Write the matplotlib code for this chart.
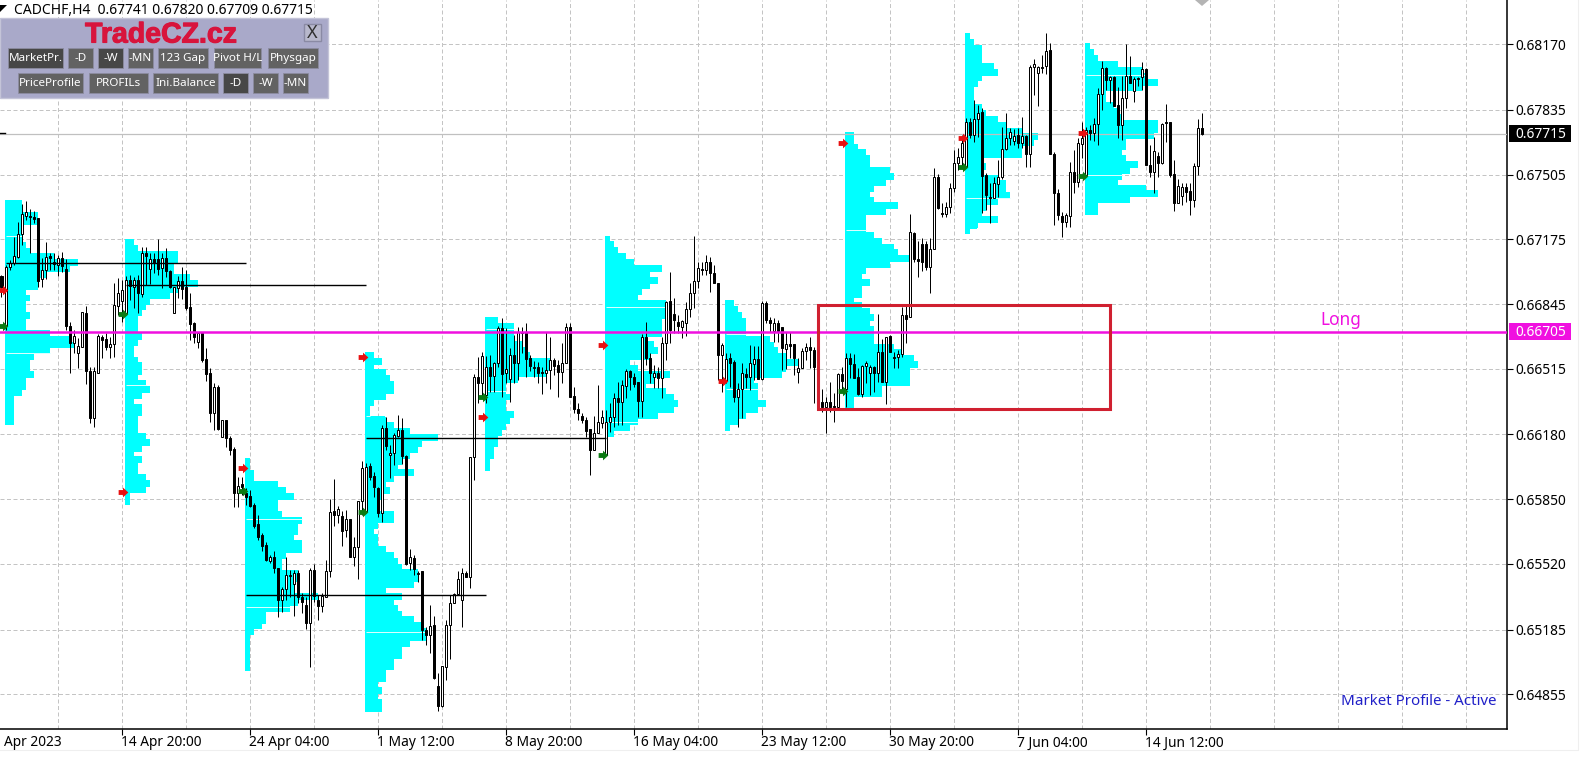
import numpy as np
from matplotlib import pyplot as plt
from matplotlib.patches import Rectangle, Polygon
import matplotlib.patheffects as pe

plt.rcParams['font.family'] = ['Noto Sans', 'DejaVu Sans']

# all prices in points (1 point = 0.00001)
opens = [66988, 66733, 67033, 67053, 67087, 67201, 67296, 67294, 67288, 67283,
         66971, 67019, 67092, 67058, 67045, 67078, 67024, 66733, 66648, 66594,
         66628, 66798, 66506, 66266, 66495, 66676, 66667, 66628, 66640, 66837,
         66863, 66798, 66968, 66934, 66968, 66897, 67104, 67022, 67075, 67073,
         67027, 67078, 67014, 66801, 66926, 66963, 66934, 66832, 66747, 66653,
         66699, 66563, 66495, 66291, 66424, 66169, 66254, 66164, 66104, 65883,
         65928, 65883, 65866, 65820, 65724, 65667, 65616, 65537, 65557, 65497,
         65336, 65390, 65457, 65418, 65472, 65353, 65310, 65217, 65489, 65336,
         65305, 65353, 65481, 65790, 65770, 65764, 65693, 65747, 65557, 65608,
         65838, 65787, 66019, 65968, 65906, 65781, 66212, 66074, 66084, 66172,
         66203, 66072, 65523, 65549, 65469, 65481, 65183, 65157, 65208, 64897,
         64795, 64996, 65208, 65319, 65367, 65336, 65472, 65452, 66064, 66472,
         66441, 66382, 66523, 66478, 66543, 66721, 66492, 66461, 66585, 66546,
         66699, 66704, 66569, 66519, 66526, 66500, 66495, 66509, 66560, 66534,
         66500, 66546, 66727, 66376, 66310, 66274, 66254, 66206, 66101, 66186,
         66240, 66076, 66245, 66271, 66365, 66344, 66429, 66506, 66472, 66446,
         66353, 66679, 66569, 66472, 66495, 66467, 66645, 66861, 66793, 66752,
         66730, 66750, 66818, 66900, 66963, 67024, 67019, 67058, 67002, 66951,
         66586, 66455, 66569, 66548, 66373, 66410, 66489, 66472, 66540, 66563,
         66463, 66852, 66764, 66710, 66750, 66727, 66618, 66640, 66642, 66500,
         66518, 66606, 66625, 66611, 66347, 66344, 66319, 66344, 66325, 66319,
         66489, 66410, 66570, 66540, 66472, 66387, 66531, 66495, 66523, 66495,
         66599, 66449, 66682, 66575, 66574, 66589, 66788, 66778, 67206, 67075,
         67152, 67152, 67033, 67124, 67492, 67308, 67305, 67339, 67436, 67563,
         67594, 67546, 67774, 67708, 67787, 67825, 67503, 67388, 67385, 67458,
         67492, 67634, 67690, 67679, 67706, 67668, 67702, 67609, 68053, 68022,
         68056, 68059, 68141, 67611, 67413, 67296, 67264, 67294, 67520, 67466,
         67662, 67503, 67733, 67719, 67762, 67915, 68048, 67988, 68002, 67860,
         67758, 67894, 68008, 67932, 67998, 68002, 68044, 67555, 67521, 67600,
         67566, 67772, 67772, 67509, 67359, 67398, 67441, 67420, 67376, 67549,
         67741]
highs = [66993, 67045, 67070, 67189, 67266, 67356, 67373, 67328, 67322, 67283,
         67079, 67163, 67107, 67104, 67095, 67112, 67073, 66756, 66713, 66670,
         66807, 66835, 66526, 66526, 66693, 66688, 66696, 66679, 66954, 66977,
         66968, 66988, 66993, 66982, 66993, 67138, 67138, 67104, 67104, 67177,
         67104, 67133, 67019, 66931, 66988, 67033, 67019, 66903, 66756, 66704,
         66699, 66620, 66518, 66441, 66432, 66254, 66254, 66172, 66118, 65965,
         65965, 65906, 65897, 65829, 65770, 65679, 65633, 65566, 65588, 65497,
         65404, 65557, 65489, 65489, 65489, 65370, 65353, 65501, 65520, 65361,
         65370, 65540, 65849, 65951, 65817, 65792, 65795, 65747, 65659, 65841,
         66042, 66033, 66036, 65990, 65914, 66228, 66271, 66126, 66186, 66280,
         66262, 66076, 65594, 65566, 65486, 65481, 65200, 65311, 65254, 64962,
         65000, 65234, 65362, 65370, 65486, 65497, 65481, 66067, 66489, 66577,
         66602, 66580, 66586, 66552, 66733, 66772, 66721, 66619, 66687, 66730,
         66730, 66750, 66585, 66557, 66552, 66526, 66704, 66679, 66568, 66560,
         66645, 66750, 66750, 66424, 66339, 66291, 66271, 66206, 66274, 66433,
         66305, 66305, 66339, 66390, 66450, 66458, 66512, 66509, 66492, 66450,
         66693, 66755, 66594, 66534, 66526, 66679, 66861, 67010, 66874, 66789,
         66764, 66858, 66951, 67192, 67061, 67061, 67095, 67084, 67044, 66951,
         66645, 66594, 66594, 66560, 66441, 66543, 66518, 66636, 66631, 66631,
         66861, 66861, 66781, 66773, 66764, 66730, 66704, 66704, 66642, 66569,
         66619, 66645, 66679, 66628, 66373, 66410, 66373, 66449, 66390, 66495,
         66523, 66594, 66594, 66589, 66517, 66534, 66557, 66534, 66529, 66793,
         66665, 66679, 66688, 66602, 66611, 66829, 66846, 67303, 67214, 67169,
         67180, 67169, 67180, 67538, 67509, 67362, 67368, 67461, 67631, 67640,
         67707, 67796, 67796, 67886, 67861, 67844, 67512, 67461, 67495, 67580,
         67747, 67821, 67741, 67736, 67741, 67798, 67707, 68064, 68093, 68059,
         68116, 68226, 68178, 67623, 67430, 67317, 67311, 67571, 67631, 67690,
         67775, 67747, 67759, 67793, 67945, 68087, 68056, 68008, 68008, 67954,
         68008, 68172, 68110, 68005, 68005, 68081, 68048, 67656, 67699, 67623,
         67767, 67866, 67775, 67580, 67481, 67461, 67461, 67461, 67563, 67789,
         67820]
lows = [66883, 66713, 67019, 67045, 67079, 67147, 67274, 67104, 67257, 66934,
        66931, 66971, 67019, 67019, 66988, 67010, 66713, 66492, 66594, 66518,
        66628, 66438, 66237, 66220, 66495, 66568, 66611, 66572, 66577, 66790,
        66756, 66798, 66866, 66823, 66801, 66880, 66942, 66948, 67002, 66994,
        66929, 66985, 66926, 66801, 66874, 66869, 66815, 66662, 66648, 66619,
        66552, 66455, 66245, 66203, 66203, 66169, 66118, 66075, 65812, 65812,
        65872, 65820, 65812, 65702, 65642, 65588, 65532, 65526, 65472, 65251,
        65276, 65336, 65353, 65254, 65319, 65268, 65186, 64993, 65327, 65234,
        65276, 65353, 65452, 65713, 65727, 65611, 65659, 65557, 65509, 65441,
        65770, 65778, 65948, 65863, 65761, 65735, 66101, 65957, 66024, 66169,
        66030, 65514, 65489, 65463, 65429, 65132, 65106, 65064, 64931, 64767,
        64792, 64928, 65033, 65319, 65362, 65197, 65452, 65396, 65948, 66339,
        66373, 66339, 66398, 66398, 66526, 66373, 66441, 66347, 66441, 66458,
        66594, 66475, 66506, 66475, 66441, 66387, 66441, 66410, 66483, 66373,
        66441, 66543, 66373, 66288, 66254, 66237, 66169, 65974, 66101, 66186,
        66212, 66076, 66194, 66220, 66229, 66229, 66365, 66407, 66424, 66271,
        66271, 66534, 66441, 66415, 66415, 66365, 66560, 66645, 66696, 66696,
        66670, 66682, 66781, 66823, 66925, 66993, 66993, 66909, 66951, 66458,
        66398, 66441, 66424, 66347, 66220, 66263, 66415, 66407, 66458, 66463,
        66458, 66747, 66704, 66653, 66653, 66509, 66512, 66569, 66483, 66441,
        66518, 66560, 66518, 66339, 66322, 66296, 66189, 66296, 66246, 66314,
        66407, 66319, 66467, 66467, 66381, 66373, 66441, 66381, 66398, 66449,
        66449, 66336, 66602, 66518, 66518, 66577, 66648, 66778, 67058, 66985,
        67014, 67019, 66900, 67124, 67328, 67291, 67291, 67311, 67419, 67529,
        67538, 67546, 67691, 67674, 67699, 67311, 67325, 67260, 67385, 67393,
        67481, 67631, 67656, 67656, 67640, 67640, 67546, 67546, 67911, 67855,
        68022, 68019, 67609, 67249, 67274, 67189, 67240, 67240, 67410, 67444,
        67589, 67498, 67682, 67679, 67656, 67835, 67937, 67872, 67855, 67690,
        67682, 67843, 67971, 67878, 67959, 67937, 67555, 67495, 67410, 67495,
        67560, 67674, 67495, 67322, 67359, 67350, 67368, 67300, 67339, 67503,
        67709]
closes = [66934, 67033, 67056, 67090, 67201, 67303, 67313, 67288, 67279, 66965,
          67019, 67084, 67082, 67050, 67078, 67039, 66735, 66648, 66682, 66631,
          66803, 66506, 66266, 66504, 66682, 66662, 66628, 66642, 66841, 66900,
          66917, 66968, 66937, 66968, 66900, 67104, 67092, 67075, 67053, 67024,
          67078, 67014, 66934, 66931, 66963, 66922, 66823, 66744, 66679, 66696,
          66560, 66489, 66291, 66424, 66206, 66254, 66161, 66101, 65883, 65919,
          65911, 65863, 65815, 65713, 65659, 65613, 65540, 65554, 65497, 65336,
          65390, 65464, 65460, 65472, 65350, 65327, 65217, 65489, 65356, 65305,
          65356, 65481, 65786, 65770, 65800, 65690, 65749, 65557, 65608, 65838,
          66008, 66016, 65965, 65911, 65781, 66212, 66121, 66084, 66178, 66203,
          66070, 65520, 65554, 65492, 65472, 65180, 65157, 65203, 64936, 64795,
          65000, 65208, 65319, 65367, 65441, 65475, 65452, 66064, 66472, 66441,
          66580, 66523, 66478, 66546, 66721, 66489, 66512, 66585, 66546, 66704,
          66704, 66563, 66529, 66526, 66495, 66495, 66509, 66560, 66529, 66500,
          66546, 66727, 66373, 66310, 66288, 66254, 66200, 66101, 66186, 66245,
          66268, 66245, 66271, 66365, 66344, 66433, 66506, 66472, 66438, 66353,
          66679, 66569, 66492, 66492, 66468, 66645, 66858, 66713, 66764, 66733,
          66761, 66818, 66900, 66963, 67027, 67019, 67058, 67002, 66951, 66586,
          66636, 66563, 66543, 66373, 66410, 66492, 66475, 66543, 66563, 66463,
          66849, 66764, 66750, 66750, 66710, 66620, 66642, 66631, 66572, 66518,
          66606, 66625, 66611, 66523, 66342, 66319, 66344, 66322, 66319, 66489,
          66455, 66568, 66540, 66470, 66387, 66531, 66543, 66523, 66492, 66599,
          66449, 66676, 66602, 66572, 66589, 66788, 66771, 67211, 67075, 67065,
          67062, 67033, 67124, 67492, 67337, 67305, 67339, 67436, 67566, 67594,
          67665, 67774, 67708, 67787, 67818, 67500, 67402, 67385, 67461, 67492,
          67634, 67690, 67721, 67704, 67668, 67702, 67609, 68053, 68068, 68053,
          68051, 68138, 67609, 67413, 67300, 67264, 67298, 67520, 67469, 67665,
          67690, 67733, 67719, 67762, 67917, 68048, 67988, 68002, 67857, 67758,
          67898, 68008, 67974, 67995, 67993, 68042, 67555, 67521, 67628, 67566,
          67764, 67767, 67502, 67359, 67449, 67441, 67419, 67376, 67549, 67741,
          67715]

# market profiles: first bar, top price, bars per 30-point row
profile_starts = [1, 31, 61, 91, 121, 151, 181, 211, 241, 271]
profile_tops = [67371, 67175, 66058, 66599, 66776, 67192, 66861, 67721, 68223, 68172]
profile_1 = [4, 4, 8, 8, 4, 4, 4, 5, 6, 12, 18, 16, 10, 8, 8, 5, 6, 5, 5, 6, 5, 5, 11, 16, 17, 11, 7, 6, 6, 7, 5, 5, 4, 2, 2, 2, 2, 2]
profile_2 = [2, 3, 13, 13, 12, 12, 16, 18, 13, 11, 6, 5, 4, 3, 3, 3, 4, 3, 2, 2, 3, 4, 4, 3, 5, 6, 4, 2, 4, 4, 3, 3, 3, 5, 6, 4, 2, 4, 3, 3, 5, 6, 5, 1, 1]
profile_3 = [1, 1, 2, 2, 8, 10, 12, 8, 8, 9, 14, 13, 13, 12, 14, 14, 10, 9, 9, 13, 13, 12, 12, 18, 13, 11, 5, 5, 4, 2, 1, 1, 1, 1, 1, 1]
profile_4 = [2, 4, 2, 5, 6, 7, 7, 5, 2, 1, 1, 5, 7, 11, 18, 14, 13, 11, 9, 8, 12, 7, 5, 6, 4, 3, 3, 7, 7, 3, 2, 3, 3, 5, 7, 8, 9, 13, 13, 12, 5, 9, 7, 8, 9, 12, 14, 15, 15, 11, 9, 9, 7, 7, 5, 5, 3, 4, 3, 4, 4]
profile_5 = [3, 7, 7, 7, 9, 10, 11, 16, 16, 15, 8, 5, 5, 6, 5, 5, 7, 6, 5, 4, 3, 3, 2, 2, 1, 1]
profile_6 = [1, 2, 3, 5, 7, 14, 11, 13, 11, 9, 8, 15, 15, 15, 14, 14, 14, 10, 12, 13, 11, 6, 8, 16, 12, 10, 15, 17, 18, 17, 13, 8, 6, 2]
profile_7 = [2, 3, 4, 5, 5, 5, 11, 12, 13, 15, 18, 15, 14, 7, 8, 8, 8, 10, 8, 5, 3, 1]
profile_8 = [2, 2, 3, 5, 6, 6, 11, 12, 10, 7, 6, 7, 13, 10, 5, 5, 5, 7, 9, 12, 13, 16, 11, 5, 4, 6, 4, 4, 2, 4, 6, 7, 6, 7, 7, 7, 12, 14, 17, 18, 16, 16, 16, 9, 9, 2, 2]
profile_9 = [1, 2, 4, 4, 4, 7, 8, 4, 3, 2, 2, 2, 4, 5, 8, 10, 14, 18, 17, 14, 14, 4, 5, 4, 8, 10, 10, 11, 8, 5, 4, 8, 3, 1]
profile_10 = [1, 2, 3, 8, 14, 15, 18, 14, 5, 5, 7, 8, 9, 18, 18, 17, 10, 10, 9, 10, 13, 11, 9, 8, 15, 18, 11, 3, 3]
profiles = [profile_1, profile_2, profile_3, profile_4, profile_5, profile_6, profile_7, profile_8, profile_9, profile_10]
row_step = 30

# pale lines inside the profiles
pale_prices = [[67194, 66597], [66432], [65747, 65299], [66276, 65171], [66716, 66402],
               [66832, 66245], [66691, 66412], [67223], [67388], [68013, 67503]]

# black level lines: from bar, to bar, price
level_from = [1, 31, 61, 91]
level_to = [61, 91, 121, 151]
level_price = [67053, 66941, 65360, 66161]

# arrows beside each profile
red_prices = [66917, 65887, 66009, 66577, 66269, 66636, 66454, 67667, 67692, 67718]
green_prices = [66733, 66795, 65892, 65785, 66371, 66075, None, 66403, 67544, 67498]

box_bars = [204.2, 277.2]
box_prices = [66308, 66840]

long_price = 66705
last_price = 67715

y_ticks = [68170, 67835, 67505, 67175, 66845, 66515, 66180, 65850, 65520, 65185, 64855]
y_labels = ['0.68170', '0.67835', '0.67505', '0.67175', '0.66845', '0.66515', '0.66180',
            '0.65850', '0.65520', '0.65185', '0.64855']
x_ticks = [30, 62, 94, 126, 158, 190, 222, 254, 286]
x_labels = ['14 Apr 20:00', '24 Apr 04:00', '1 May 12:00', '8 May 20:00', '16 May 04:00',
            '23 May 12:00', '30 May 20:00', '7 Jun 04:00', '14 Jun 12:00']

fig = plt.figure(figsize=(15.8, 7.59), dpi=100)
ax = fig.add_axes([0, (759 - 729.3) / 759, 1507 / 1580, 729.3 / 759])
ax.set_xlim(-0.375, 376.375)
ax.set_ylim(64676, 68396)

for spine in ['left', 'top']:
    ax.spines[spine].set_visible(False)
ax.spines['right'].set_linewidth(1.1)
ax.spines['bottom'].set_linewidth(1.1)

ax.set_xticks(x_ticks)
ax.set_xticklabels([])
ax.set_yticks(y_ticks)
ax.set_yticklabels([])
ax.tick_params(axis='x', length=4, width=0.8, color='black')
ax.yaxis.tick_right()
ax.tick_params(axis='y', length=4, width=0.8, color='black')

# grid every 16 bars, ticks only every 32
for bar in range(14, 377, 16):
    ax.axvline(bar, color='#c4c4c4', lw=0.72, ls=(0, (4, 2.5)), zorder=1)
for price in y_ticks:
    ax.axhline(price, color='#c4c4c4', lw=0.72, ls=(0, (4, 2.5)), zorder=1)

for start, top, counts, pale in zip(profile_starts, profile_tops, profiles, pale_prices):
    counts = np.array(counts)
    row_mid = top - row_step * (np.arange(len(counts)) + 0.5)
    ax.barh(row_mid, counts, height=row_step, left=start, color='#00ffff', linewidth=0,
            antialiased=False, snap=False, zorder=2)
    for price in pale:
        row = min(int((top - price) / row_step), len(counts) - 1)
        ax.hlines(price, start, start + counts[row], color='#d8ffff', lw=0.72, zorder=2.5)

ax.axhline(last_price, color='#c0c0c0', lw=0.9, zorder=2.6)

bars = np.arange(len(opens))
opens = np.array(opens)
closes = np.array(closes)
up = closes >= opens
ax.vlines(bars, lows, highs, color='black', lw=0.72, zorder=3)
body_low = np.minimum(opens, closes)
body_size = np.maximum(np.abs(closes - opens), 4)
ax.bar(bars[up], body_size[up], bottom=body_low[up], width=0.5, color='white',
       edgecolor='black', linewidth=0.72, zorder=4)
ax.bar(bars[~up], body_size[~up], bottom=body_low[~up], width=0.5, color='black',
       edgecolor='black', linewidth=0.72, zorder=4)

ax.hlines(level_price, level_from, level_to, color='black', lw=1.0, zorder=5)

# small block arrow pointing right
arrow = [(-1, -0.5), (-0.1, -0.5), (-0.1, -1), (1, 0), (-0.1, 1), (-0.1, 0.5), (-1, 0.5), (-1, -0.5)]
arrow_x = np.array(profile_starts) - 0.65
ax.plot(arrow_x, red_prices, ls='none', marker=arrow, ms=7, color='#e81010', mew=0, zorder=6)
ax.plot(arrow_x[:6], green_prices[:6], ls='none', marker=arrow, ms=7, color='#0c7a14', mew=0, zorder=6)
ax.plot(arrow_x[7:], green_prices[7:], ls='none', marker=arrow, ms=7, color='#0c7a14', mew=0, zorder=6)

ax.axhline(long_price, color='#f010e0', lw=1.8, zorder=7)
ax.add_patch(Rectangle((box_bars[0], box_prices[0]), box_bars[1] - box_bars[0], box_prices[1] - box_prices[0],
                       fill=False, edgecolor='#d02030', linewidth=2.2, zorder=8))

# screen furniture, laid out in image pixels
ui = fig.add_axes([0, 0, 1, 1])
ui.set_xlim(0, 1580)
ui.set_ylim(759, 0)
ui.axis('off')
ui.patch.set_alpha(0)

label_size = 9.9
for tick, text in zip(x_ticks, x_labels):
    ui.text(tick * 4 + 1.33, 743, text, fontsize=label_size, ha='left', va='center', color='black')
ui.text(4, 743, 'Apr 2023', fontsize=label_size, ha='left', va='center', color='black')

for price, text in zip(y_ticks, y_labels):
    y_px = 44.3 + (68170 - price) / 5.1
    ui.text(1515, y_px + 2, text, fontsize=label_size, ha='left', va='center', color='black')

for price, text, face in [(last_price, '0.67715', 'black'), (long_price, '0.66705', '#f010e0')]:
    y_px = 44.3 + (68170 - price) / 5.1
    ui.add_patch(Rectangle((1509, y_px - 8.5), 62, 17, color=face, lw=0))
    ui.text(1515, y_px + 1, text, fontsize=label_size, ha='left', va='center', color='white')

ui.text(1320, 320, 'Long', fontsize=12.4, ha='left', va='center', color='#f010e0')
ui.text(1341, 701.5, 'Market Profile - Active', fontsize=10.9, ha='left', va='center', color='#2020c8')

ui.text(14, 10, 'CADCHF,H4  0.67741 0.67820 0.67709 0.67715', fontsize=10, ha='left', va='center', color='black')
ui.add_patch(Polygon([[0, 5], [7, 5], [0, 12]], color='black', lw=0))
ui.plot([0, 5], [132.5, 132.5], color='black', lw=1)
ui.add_patch(Polygon([[1195, 0], [1209, 0], [1202, 6]], color='#b4b4b4', lw=0))

# faint window edge
ui.plot([1578, 1578, 0], [0, 750, 750], color='#efefef', lw=0.8)

# control panel
ui.add_patch(Rectangle((0, 18), 328, 80, facecolor='#a9a9c9', edgecolor='#c4c4d8', lw=1, zorder=10))
title = ui.text(161, 35.5, 'TradeCZ.cz', fontsize=20.5, fontweight='bold', family='Liberation Sans',
                ha='center', va='center', color='#d8143c', zorder=11)
title.set_path_effects([pe.withStroke(linewidth=0.8, foreground='#d8143c')])
ui.add_patch(Rectangle((304, 24), 17, 17, facecolor='#b8b8cc', edgecolor='#8a8aa4', lw=1, zorder=11))
ui.text(312.5, 32.5, 'X', fontsize=13, ha='center', va='center', color='#303030', zorder=12)

button_names = ['MarketPr.', '-D', '-W', '-MN', '123 Gap', 'Pivot H/L', 'Physgap',
                'PriceProfile', 'PROFILs', 'Ini.Balance', '-D', '-W', '-MN']
button_left = [8, 68, 98, 128, 158, 214, 268, 18, 89, 153, 223, 253, 283]
button_right = [63, 93, 123, 153, 208, 261, 318, 83, 148, 218, 248, 278, 308]
button_top = [48] * 7 + [73] * 6
button_dark = [True, False, True, False, False, False, False, False, False, False, True, False, False]
for name, left, right, top, dark in zip(button_names, button_left, button_right, button_top, button_dark):
    face = '#474747' if dark else '#626262'
    ui.add_patch(Rectangle((left, top), right - left, 20, facecolor=face, edgecolor='#8c8ca0', lw=0.6, zorder=11))
    ui.text((left + right) / 2, top + 10.5, name, fontsize=8.4, ha='center', va='center', color='white',
            zorder=12)

plt.savefig('out.png', dpi=100)
